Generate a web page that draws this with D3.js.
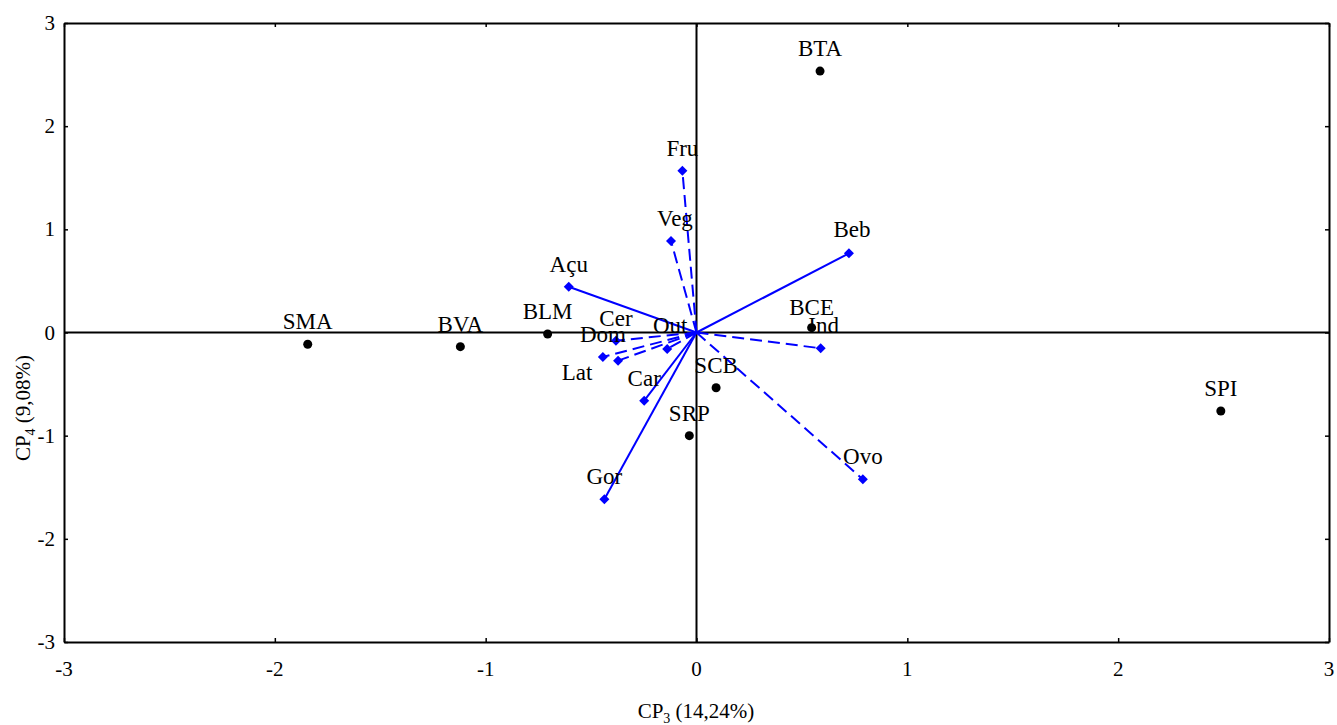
<!DOCTYPE html>
<html>
<head>
<meta charset="utf-8">
<script src="https://cdnjs.cloudflare.com/ajax/libs/d3/7.8.5/d3.min.js"></script>
<style>
  body { margin: 0; background: #fff; }
  text { font-family: "Liberation Serif", "Times New Roman", serif; fill: #000; }
</style>
</head>
<body>
<svg id="chart" width="1337" height="725"></svg>
<script>
// sample scores (black dots)
var sampleNames = ["BTA", "SMA", "BVA", "BLM", "SCB", "SRP", "BCE", "SPI"];
var sampleX = [0.586, -1.844, -1.120, -0.706, 0.093, -0.034, 0.546, 2.487];
var sampleY = [2.534, -0.114, -0.137, -0.015, -0.535, -1.000, 0.047, -0.761];

// variable loadings (blue vectors)
var varNames = ["Fru", "Veg", "Açu", "Cer", "Dom", "Out", "Lat", "Car", "Gor", "Ind", "Beb", "Ovo"];
var varX = [-0.067, -0.121, -0.606, -0.382, -0.444, -0.139, -0.372, -0.248, -0.437, 0.589, 0.723, 0.789];
var varY = [1.568, 0.887, 0.444, -0.079, -0.237, -0.160, -0.273, -0.661, -1.616, -0.153, 0.767, -1.423];
var varDashed = [true, true, false, true, true, true, true, false, false, true, false, true];

var ticks = [-3, -2, -1, 0, 1, 2, 3];

// layout
var plotLeft = 64, plotRight = 1329, plotTop = 23, plotBottom = 642;
var svg = d3.select("#chart");

var x = d3.scaleLinear().domain([-3, 3]).range([plotLeft, plotRight]);
var y = d3.scaleLinear().domain([-3, 3]).range([plotBottom, plotTop]);

// label nudges (px), default is centred above the mark
var nudge = { "Lat": [-41, 19], "Veg": [4, -15], "Out": [3, -16], "Ind": [3, -15], "Beb": [3, -16], "BCE": [0, -13] };

// zero lines
svg.append("line").attr("x1", x(-3)).attr("x2", x(3)).attr("y1", y(0)).attr("y2", y(0))
  .attr("stroke", "#000").attr("stroke-width", 2);
svg.append("line").attr("x1", x(0)).attr("x2", x(0)).attr("y1", y(-3)).attr("y2", y(3))
  .attr("stroke", "#000").attr("stroke-width", 2);

// axes with inward ticks
var axB = svg.append("g").attr("transform", "translate(0," + plotBottom + ")")
  .call(d3.axisTop(x).tickValues(ticks).tickSize(4).tickSizeOuter(0).tickFormat(""));
var axT = svg.append("g").attr("transform", "translate(0," + plotTop + ")")
  .call(d3.axisBottom(x).tickValues(ticks).tickSize(4).tickSizeOuter(0).tickFormat(""));
var axL = svg.append("g").attr("transform", "translate(" + plotLeft + ",0)")
  .call(d3.axisRight(y).tickValues(ticks).tickSize(4).tickSizeOuter(0).tickFormat(""));
var axR = svg.append("g").attr("transform", "translate(" + plotRight + ",0)")
  .call(d3.axisLeft(y).tickValues(ticks).tickSize(4).tickSizeOuter(0).tickFormat(""));
[axB, axT, axL, axR].forEach(function(a) {
  a.selectAll("path.domain").attr("stroke", "#000").attr("stroke-width", 2);
  a.selectAll(".tick line").attr("stroke", "#000").attr("stroke-width", 1.5);
});

// tick labels
svg.selectAll(".xlab").data(ticks).enter().append("text")
  .attr("x", function(d) { return x(d); }).attr("y", 676)
  .attr("text-anchor", "middle").style("font-size", "21px")
  .text(function(d) { return d; });
svg.selectAll(".ylab").data(ticks).enter().append("text")
  .attr("x", 55).attr("y", function(d) { return y(d) + 7; })
  .attr("text-anchor", "end").style("font-size", "21px")
  .text(function(d) { return d; });

// axis titles
var xt = svg.append("text").attr("x", 696).attr("y", 718).attr("text-anchor", "middle").style("font-size", "21px");
xt.append("tspan").text("CP");
xt.append("tspan").attr("dy", 5).style("font-size", "14px").text("3");
xt.append("tspan").attr("dy", -5).text(" (14,24%)");

var yt = svg.append("text").attr("transform", "translate(30,408) rotate(-90)")
  .attr("text-anchor", "middle").style("font-size", "21px");
yt.append("tspan").text("CP");
yt.append("tspan").attr("dy", 5).style("font-size", "14px").text("4");
yt.append("tspan").attr("dy", -5).text(" (9,08%)");

// vectors
var vars = varNames.map(function(n, i) { return { name: n, x: varX[i], y: varY[i], dashed: varDashed[i] }; });
svg.selectAll(".vec").data(vars).enter().append("line")
  .attr("x1", x(0)).attr("y1", y(0))
  .attr("x2", function(d) { return x(d.x); }).attr("y2", function(d) { return y(d.y); })
  .attr("stroke", "#0000ff").attr("stroke-width", 2)
  .attr("stroke-dasharray", function(d) { return d.dashed ? "12,6" : null; });
svg.selectAll(".dia").data(vars).enter().append("path")
  .attr("d", "M0,-5L5,0L0,5L-5,0Z")
  .attr("transform", function(d) { return "translate(" + x(d.x) + "," + y(d.y) + ")"; })
  .attr("fill", "#0000ff");

// samples
var samples = sampleNames.map(function(n, i) { return { name: n, x: sampleX[i], y: sampleY[i] }; });
svg.selectAll(".dot").data(samples).enter().append("circle")
  .attr("cx", function(d) { return x(d.x); }).attr("cy", function(d) { return y(d.y); })
  .attr("r", 4.5).attr("fill", "#000");

// labels
var labelled = samples.concat(vars);
svg.selectAll(".plab").data(labelled).enter().append("text")
  .attr("x", function(d) { return x(d.x) + (nudge[d.name] ? nudge[d.name][0] : 0); })
  .attr("y", function(d) { return y(d.y) + (nudge[d.name] ? nudge[d.name][1] : -15); })
  .attr("text-anchor", "middle").style("font-size", "23px")
  .text(function(d) { return d.name; });
</script>
</body>
</html>
